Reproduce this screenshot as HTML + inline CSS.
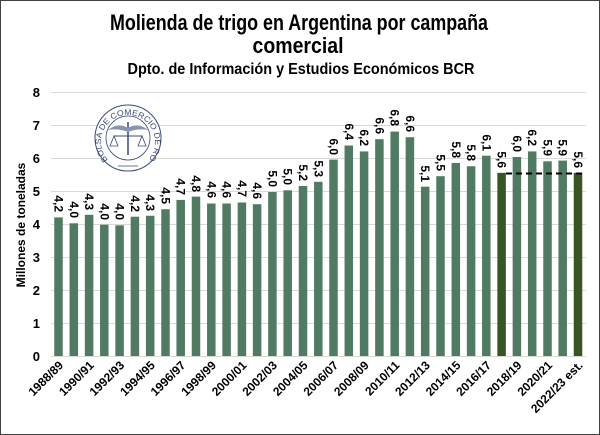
<!DOCTYPE html>
<html><head><meta charset="utf-8"><style>
html,body{margin:0;padding:0;background:#fff}
svg{display:block}
</style></head><body>
<svg width="600" height="435" viewBox="0 0 600 435" xmlns="http://www.w3.org/2000/svg" font-family="Liberation Sans, sans-serif">
<rect x="0.5" y="0.5" width="599" height="434" fill="#fff" stroke="#404040" stroke-width="1"/>
<g font-weight="bold" text-anchor="middle" fill="#000">
<text x="299" y="30" font-size="22" textLength="378" lengthAdjust="spacingAndGlyphs">Molienda de trigo en Argentina por campaña</text>
<text x="298" y="53" font-size="22" textLength="91" lengthAdjust="spacingAndGlyphs">comercial</text>
<text x="301" y="74" font-size="16" textLength="347" lengthAdjust="spacingAndGlyphs">Dpto. de Información y Estudios Económicos BCR</text>
</g>
<g stroke="#d9d9d9" stroke-width="1">
<line x1="51" x2="586" y1="92.5" y2="92.5"/><line x1="51" x2="586" y1="125.5" y2="125.5"/><line x1="51" x2="586" y1="158.5" y2="158.5"/><line x1="51" x2="586" y1="191.5" y2="191.5"/><line x1="51" x2="586" y1="224.5" y2="224.5"/><line x1="51" x2="586" y1="257.5" y2="257.5"/><line x1="51" x2="586" y1="290.5" y2="290.5"/><line x1="51" x2="586" y1="323.5" y2="323.5"/><line x1="51" x2="586" y1="356.5" y2="356.5"/>
</g>
<g font-size="13" font-weight="bold" text-anchor="end" fill="#000">
<text x="40" y="97">8</text><text x="40" y="130">7</text><text x="40" y="163">6</text><text x="40" y="196">5</text><text x="40" y="229">4</text><text x="40" y="262">3</text><text x="40" y="295">2</text><text x="40" y="328">1</text><text x="40" y="361">0</text>
</g>
<text transform="translate(25,225) rotate(-90)" font-size="12" font-weight="bold" text-anchor="middle">Millones de toneladas</text>
<g>
<circle cx="128" cy="138" r="33" fill="#fff" stroke="#3a4a78" stroke-width="1"/>
<circle cx="128" cy="138" r="22" fill="none" stroke="#3a4a78" stroke-width="0.8"/>
<defs><path id="arc" d="M 108 160 A 27 27 0 1 1 148 160"/></defs>
<text font-size="8" fill="#3a4a78"><textPath href="#arc" textLength="150" lengthAdjust="spacingAndGlyphs">BOLSA DE COMERCIO DE ROSARIO</textPath></text>
<line x1="128" y1="122" x2="128" y2="155" stroke="#3a4a78" stroke-width="1.5"/>
<path d="M108 130 Q118 122 128 128 Q138 122 148 130 Q138 128 128 132 Q118 128 108 130Z" fill="#8a94b0"/>
<line x1="114" y1="136" x2="142" y2="136" stroke="#3a4a78" stroke-width="1"/>
<path d="M110 146 L114 136 L118 146 Z M138 146 L142 136 L146 146 Z" fill="none" stroke="#3a4a78" stroke-width="0.8"/>
<line x1="118" y1="166" x2="138" y2="166" stroke="#3a4a78" stroke-width="0.8"/>
</g>
<g fill="#507a62">
<rect x="54.25" y="217.4" width="8.5" height="138.6"/>
<rect x="69.55" y="223.3" width="8.5" height="132.7"/>
<rect x="84.85" y="214.8" width="8.5" height="141.2"/>
<rect x="100.05" y="224.7" width="8.5" height="131.3"/>
<rect x="115.35" y="225.3" width="8.5" height="130.7"/>
<rect x="130.65" y="216.7" width="8.5" height="139.3"/>
<rect x="145.95" y="215.75" width="8.5" height="140.25"/>
<rect x="161.25" y="209.2" width="8.5" height="146.8"/>
<rect x="176.45" y="199.9" width="8.5" height="156.1"/>
<rect x="191.75" y="196.6" width="8.5" height="159.4"/>
<rect x="207.05" y="203.5" width="8.5" height="152.5"/>
<rect x="222.35" y="203.5" width="8.5" height="152.5"/>
<rect x="237.65" y="202.5" width="8.5" height="153.5"/>
<rect x="252.85" y="204.2" width="8.5" height="151.8"/>
<rect x="268.15" y="192" width="8.5" height="164"/>
<rect x="283.45" y="190.3" width="8.5" height="165.7"/>
<rect x="298.75" y="186" width="8.5" height="170"/>
<rect x="314.05" y="181.8" width="8.5" height="174.2"/>
<rect x="329.25" y="159.6" width="8.5" height="196.4"/>
<rect x="344.55" y="145.5" width="8.5" height="210.5"/>
<rect x="359.85" y="151.4" width="8.5" height="204.6"/>
<rect x="375.15" y="139.2" width="8.5" height="216.8"/>
<rect x="390.45" y="131.6" width="8.5" height="224.4"/>
<rect x="405.65" y="137.2" width="8.5" height="218.8"/>
<rect x="420.95" y="186.7" width="8.5" height="169.3"/>
<rect x="436.25" y="176.2" width="8.5" height="179.8"/>
<rect x="451.55" y="162.95" width="8.5" height="193.05"/>
<rect x="466.85" y="166.25" width="8.5" height="189.75"/>
<rect x="482.05" y="155.7" width="8.5" height="200.3"/>
<rect x="512.65" y="157" width="8.5" height="199"/>
<rect x="527.95" y="151.4" width="8.5" height="204.6"/>
<rect x="543.25" y="161.3" width="8.5" height="194.7"/>
<rect x="558.45" y="160.6" width="8.5" height="195.4"/>
</g>
<g fill="#375623">
<rect x="497.35" y="172.85" width="8.5" height="183.15"/>
<rect x="573.75" y="172.85" width="8.5" height="183.15"/>
</g>
<line x1="506" y1="173.5" x2="582" y2="173.5" stroke="#000" stroke-width="2" stroke-dasharray="6,4"/>
<g font-size="12" font-weight="bold" text-anchor="end" fill="#000">
<text transform="translate(54.5,212) rotate(90)">4,2</text>
<text transform="translate(69.8,218) rotate(90)">4,0</text>
<text transform="translate(85.1,210) rotate(90)">4,3</text>
<text transform="translate(100.3,220) rotate(90)">4,0</text>
<text transform="translate(115.6,220) rotate(90)">4,0</text>
<text transform="translate(130.9,212) rotate(90)">4,2</text>
<text transform="translate(146.2,211) rotate(90)">4,3</text>
<text transform="translate(161.5,204) rotate(90)">4,5</text>
<text transform="translate(176.7,195) rotate(90)">4,7</text>
<text transform="translate(192,192) rotate(90)">4,8</text>
<text transform="translate(207.3,198) rotate(90)">4,6</text>
<text transform="translate(222.6,198) rotate(90)">4,6</text>
<text transform="translate(237.9,197) rotate(90)">4,7</text>
<text transform="translate(253.1,199) rotate(90)">4,6</text>
<text transform="translate(268.4,187) rotate(90)">5,0</text>
<text transform="translate(283.7,185) rotate(90)">5,0</text>
<text transform="translate(299,181) rotate(90)">5,2</text>
<text transform="translate(314.3,177) rotate(90)">5,3</text>
<text transform="translate(329.5,155) rotate(90)">6,0</text>
<text transform="translate(344.8,140) rotate(90)">6,4</text>
<text transform="translate(360.1,146) rotate(90)">6,2</text>
<text transform="translate(375.4,134) rotate(90)">6,6</text>
<text transform="translate(390.7,126) rotate(90)">6,8</text>
<text transform="translate(405.9,132) rotate(90)">6,6</text>
<text transform="translate(421.2,182) rotate(90)">5,1</text>
<text transform="translate(436.5,171) rotate(90)">5,5</text>
<text transform="translate(451.8,158) rotate(90)">5,8</text>
<text transform="translate(467.1,161) rotate(90)">5,8</text>
<text transform="translate(482.3,151) rotate(90)">6,1</text>
<text transform="translate(497.6,168) rotate(90)">5,6</text>
<text transform="translate(512.9,152) rotate(90)">6,0</text>
<text transform="translate(528.2,146) rotate(90)">6,2</text>
<text transform="translate(543.5,156) rotate(90)">5,9</text>
<text transform="translate(558.7,156) rotate(90)">5,9</text>
<text transform="translate(574,168) rotate(90)">5,6</text>
</g>
<g font-size="12" font-weight="bold" text-anchor="end" fill="#000">
<text transform="translate(64,366) rotate(-45)">1988/89</text>
<text transform="translate(94.6,366) rotate(-45)">1990/91</text>
<text transform="translate(125.1,366) rotate(-45)">1992/93</text>
<text transform="translate(155.7,366) rotate(-45)">1994/95</text>
<text transform="translate(186.2,366) rotate(-45)">1996/97</text>
<text transform="translate(216.8,366) rotate(-45)">1998/99</text>
<text transform="translate(247.4,366) rotate(-45)">2000/01</text>
<text transform="translate(277.9,366) rotate(-45)">2002/03</text>
<text transform="translate(308.5,366) rotate(-45)">2004/05</text>
<text transform="translate(339,366) rotate(-45)">2006/07</text>
<text transform="translate(369.6,366) rotate(-45)">2008/09</text>
<text transform="translate(400.2,366) rotate(-45)">2010/11</text>
<text transform="translate(430.7,366) rotate(-45)">2012/13</text>
<text transform="translate(461.3,366) rotate(-45)">2014/15</text>
<text transform="translate(491.8,366) rotate(-45)">2016/17</text>
<text transform="translate(522.4,366) rotate(-45)">2018/19</text>
<text transform="translate(553,366) rotate(-45)">2020/21</text>
<text transform="translate(583.5,366) rotate(-45)">2022/23 est.</text>
</g>
</svg>
</body></html>
